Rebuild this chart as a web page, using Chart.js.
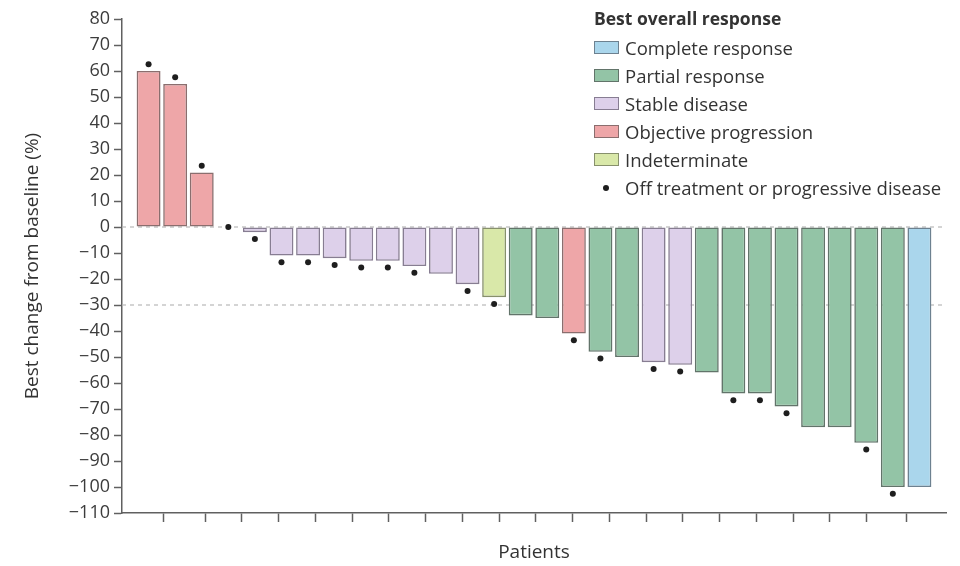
<!DOCTYPE html>
<html>
<head>
<meta charset="utf-8">
<script src="https://cdn.jsdelivr.net/npm/chart.js@4.4.1/dist/chart.umd.min.js"></script>
<style>
  html, body { margin: 0; padding: 0; background: #fff; }
  #wrap { position: relative; width: 960px; height: 566px; font-family: "Open Sans", sans-serif; }
  #c { position: absolute; left: 0; top: 0; }
  .lg-title { position: absolute; left: 594px; top: 6px; font-size: 17.5px; font-weight: 700; color: #333; line-height: 24px; white-space: nowrap; }
  .lg-row { position: absolute; left: 594px; height: 24px; line-height: 24px; white-space: nowrap; font-size: 18.5px; color: #333; }
  .lg-sw { position: absolute; left: 0; top: 5px; width: 23px; height: 11px; border: 1.5px solid #6f6f6f; }
  .lg-dot { position: absolute; left: 9px; top: 9px; width: 6px; height: 6px; border-radius: 50%; background: #1e1e1e; }
  .lg-txt { position: absolute; left: 31px; top: 0; }
</style>
</head>
<body>
<div id="wrap">
  <canvas id="c" width="960" height="566"></canvas>
  <div id="legend"></div>
</div>
<script>
// ---- data ----
const patients = [1,2,3,4,5,6,7,8,9,10,11,12,13,14,15,16,17,18,19,20,21,22,23,24,25,26,27,28,29,30];
const bestChange = [60,55,21,0,-2,-11,-11,-12,-13,-13,-15,-18,-22,-27,-34,-35,-41,-48,-50,-52,-53,-56,-64,-64,-69,-77,-77,-83,-100,-100];
const response = ['OP','OP','OP','SD','SD','SD','SD','SD','SD','SD','SD','SD','SD','IND','PR','PR','OP','PR','PR','SD','SD','PR','PR','PR','PR','PR','PR','PR','PR','CR'];
const offTreatment = [1,1,1,1,1,1,1,1,1,1,1,0,1,1,0,0,1,1,0,1,1,0,1,1,1,0,0,1,1,0];
const responseKeys = ['CR','PR','SD','OP','IND'];
const responseLabels = ['Complete response','Partial response','Stable disease','Objective progression','Indeterminate'];
const dotLabel = 'Off treatment or progressive disease';
const legendTitle = 'Best overall response';
const yTicks = [80,70,60,50,40,30,20,10,0,-10,-20,-30,-40,-50,-60,-70,-80,-90,-100,-110];
const refLines = [0, -30];
const yTitle = 'Best change from baseline (%)';
const xTitle = 'Patients';

// ---- styles ----
const fillColors = { CR: '#aad6ec', PR: '#93c4a6', SD: '#ddd0ea', OP: '#eea6a8', IND: '#d9e8a9' };
const edgeColors = { CR: '#6d8190', PR: '#62746a', SD: '#877d92', OP: '#8a6e6e', IND: '#87906c' };
const FONT = '"Open Sans", sans-serif';
const DOT_GAP = 2.6; // marker gap from bar end, in axis units

// ---- legend (HTML) ----
(function buildLegend() {
  const lg = document.getElementById('legend');
  const t = document.createElement('div');
  t.className = 'lg-title'; t.textContent = legendTitle; lg.appendChild(t);
  responseKeys.forEach((k, i) => {
    const row = document.createElement('div');
    row.className = 'lg-row'; row.style.top = (36 + 28 * i) + 'px';
    const sw = document.createElement('div');
    sw.className = 'lg-sw'; sw.style.background = fillColors[k]; sw.style.borderColor = edgeColors[k];
    const tx = document.createElement('div');
    tx.className = 'lg-txt'; tx.textContent = responseLabels[i];
    row.appendChild(sw); row.appendChild(tx); lg.appendChild(row);
  });
  const row = document.createElement('div');
  row.className = 'lg-row'; row.style.top = (36 + 28 * 5) + 'px';
  const d = document.createElement('div'); d.className = 'lg-dot';
  const tx = document.createElement('div'); tx.className = 'lg-txt'; tx.textContent = dotLabel;
  row.appendChild(d); row.appendChild(tx); lg.appendChild(row);
})();

// ---- datasets ----
const barData = patients.map((p, i) => ({ x: p, y: bestChange[i] }));
const dotData = patients
  .map((p, i) => offTreatment[i] ? { x: p, y: bestChange[i] + Math.sign(bestChange[i]) * DOT_GAP } : null)
  .filter(Boolean);

const refDatasets = refLines.map(v => ({
  type: 'line',
  label: 'ref ' + v,
  data: [{ x: 0, y: v }, { x: 31, y: v }],
  borderColor: '#b8b8b8',
  borderWidth: 1.2,
  borderDash: [4, 4],
  pointRadius: 0,
  xAxisID: 'x',
  order: 3
}));

const fmt = v => v < 0 ? '\u2212' + Math.abs(v) : String(v);

new Chart(document.getElementById('c'), {
  type: 'bar',
  data: {
    datasets: [
      {
        type: 'bar',
        label: 'Best change',
        data: barData,
        backgroundColor: response.map(r => fillColors[r]),
        borderColor: response.map(r => edgeColors[r]),
        borderWidth: bestChange.map(v => v === 0 ? 0 : 1.6),
        borderSkipped: false,
        barPercentage: 0.9,
        categoryPercentage: 1,
        xAxisID: 'x',
        order: 2
      },
      {
        type: 'scatter',
        label: dotLabel,
        data: dotData,
        backgroundColor: '#1e1e1e',
        borderColor: '#1e1e1e',
        pointRadius: 3,
        borderWidth: 0,
        xAxisID: 'x',
        order: 0
      },
      ...refDatasets
    ]
  },
  options: {
    responsive: false,
    animation: false,
    devicePixelRatio: 1,
    layout: { padding: { left: 0, right: 14, top: 19, bottom: 0 } },
    plugins: { legend: { display: false }, tooltip: { enabled: false } },
    scales: {
      x: {
        type: 'linear',
        min: 0, max: 31,
        display: false,
        offset: false
      },
      xt: {
        type: 'linear',
        position: 'bottom',
        axis: 'x',
        min: 0, max: 21.4,
        afterBuildTicks: s => {
          const t = [{ value: 0 }];
          for (let k = 0; k < 20; k++) t.push({ value: 1.25 + k });
          t.push({ value: 21.4 });
          s.ticks = t;
        },
        afterFit: s => { s.height = 53; },
        ticks: { display: false, autoSkip: false },
        grid: { drawOnChartArea: false, drawTicks: true, tickLength: 9, tickColor: '#606060', tickWidth: 1.5 },
        border: { display: true, color: '#606060', width: 1.5 },
        title: { display: true, text: xTitle, color: '#333', font: { family: FONT, size: 19 }, padding: { top: 0, bottom: 2 } }
      },
      y: {
        type: 'linear',
        position: 'left',
        min: -110, max: 80,
        afterBuildTicks: s => { s.ticks = yTicks.map(v => ({ value: v })); },
        afterFit: s => { s.width = 122; },
        ticks: { autoSkip: false, color: '#3c3c3c', font: { family: FONT, size: 18 }, padding: 4, callback: v => fmt(v) },
        grid: { drawOnChartArea: false, drawTicks: true, tickLength: 8, tickColor: '#606060', tickWidth: 1.5 },
        border: { display: true, color: '#606060', width: 1.5 },
        title: { display: true, text: yTitle, color: '#333', font: { family: FONT, size: 19 }, padding: { top: 21, bottom: 0 } }
      }
    }
  }
});
</script>
</body>
</html>
